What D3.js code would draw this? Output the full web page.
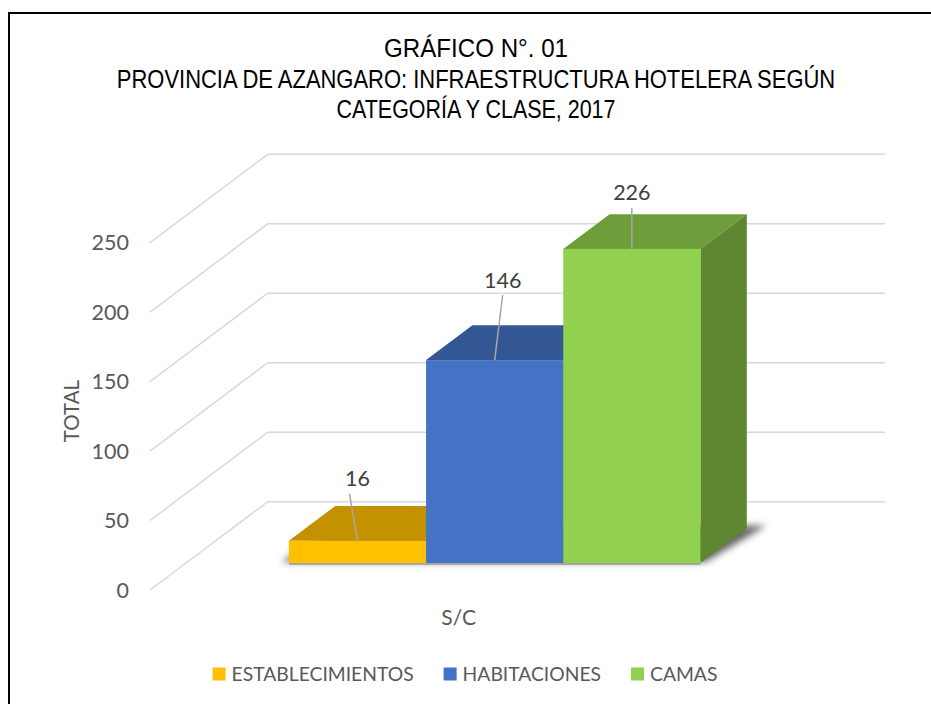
<!DOCTYPE html>
<html>
<head>
<meta charset="utf-8">
<script src="https://cdn.jsdelivr.net/npm/d3@7/dist/d3.min.js"></script>
<style>
  body { margin: 0; background: #fff; }
  svg { display: block; }
</style>
</head>
<body>
<script>
// data
var titleLines = ["GRÁFICO N°. 01",
                  "PROVINCIA DE AZANGARO: INFRAESTRUCTURA HOTELERA SEGÚN",
                  "CATEGORÍA Y CLASE, 2017"];
var categories = ["S/C"];
var series     = ["ESTABLECIMIENTOS", "HABITACIONES", "CAMAS"];
var values     = [16, 146, 226];
var yTicks     = [0, 50, 100, 150, 200, 250];
var yLabel     = "TOTAL";

// face colours: front, top, side
var colors = [
    {front: "#FFC000", top: "#C49200", side: "#B08300"},
    {front: "#4472C4", top: "#335694", side: "#2F5189"},
    {front: "#92D050", top: "#6E9E3C", side: "#5F8632"}
];
// small manual nudges for the data labels (Excel had them dragged)
var labelNudge = [[0, -62], [8, -80], [0, -56]];

var W = 931, H = 704;
var DX = 117.7, DY = 88.3;          // 3D depth offset of the back wall
var d0 = 0.306, d1 = 0.70;          // depth extent of the bars

var svg = d3.select("body").append("svg")
    .attr("width", W).attr("height", H);

// frame
svg.append("rect")
    .attr("x", 9).attr("y", 13)
    .attr("width", W + 20).attr("height", H + 20)
    .attr("fill", "none").attr("stroke", "#000").attr("stroke-width", 2);

// title - narrow look made by squeezing a normal sans horizontally
var title = svg.append("g")
    .attr("font-family", "'Liberation Sans Narrow', 'Arial Narrow', 'Liberation Sans', Arial, sans-serif")
    .attr("font-size", 26).attr("fill", "#000").attr("text-anchor", "middle");
var titleWidths = [184, 719, 279];
title.selectAll("text").data(titleLines).enter().append("text")
    .text(function(d) { return d; })
    .attr("transform", function(d, i) {
        var w = this.getComputedTextLength();
        var sx = Math.min(1, titleWidths[i] / w);
        return "translate(476," + (57 + i * 30.5) + ") scale(" + sx + ",1)";
    });

// scales
var y = d3.scaleLinear().domain([0, 250]).range([590, 242.6]);
var xCat = d3.scaleBand().domain(categories).range([150, 885 - DX]);
var xSer = d3.scaleBand().domain(series).range([0, xCat.bandwidth()]).paddingOuter(0.75);

function P(x, v, d) { return [x + d * DX, y(v) - d * DY]; }
function poly(pts) { return "M" + pts.map(function(p) { return p.join(","); }).join("L") + "Z"; }

var defs = svg.append("defs");
defs.append("filter").attr("id", "blur")
    .attr("x", "-20%").attr("y", "-50%").attr("width", "140%").attr("height", "200%")
  .append("feGaussianBlur").attr("stdDeviation", 3.5);

// grid: diagonal on the left wall + back wall line
svg.append("g").selectAll("path").data(yTicks).enter().append("path")
    .attr("d", function(t) {
        var a = P(150, t, 0), b = P(150, t, 1);
        return "M" + a + "L" + b + "L" + [885, b[1]];
    })
    .attr("fill", "none").attr("stroke", "#d9d9d9").attr("stroke-width", 1.5);

// y tick labels
var font = "Lato, 'Open Sans', 'DejaVu Sans', sans-serif";
svg.append("g").selectAll("text").data(yTicks).enter().append("text")
    .attr("x", 129).attr("y", function(t) { return y(t); })
    .attr("dy", "0.35em").attr("text-anchor", "end")
    .attr("font-family", font).attr("font-size", 21.5).attr("fill", "#595959")
    .text(function(t) { return t; });

svg.append("text")
    .attr("transform", "translate(79,411) rotate(-90)")
    .attr("text-anchor", "middle")
    .attr("font-family", font).attr("font-size", 20.5).attr("fill", "#595959")
    .text(yLabel);

// category label
svg.append("text")
    .attr("x", xCat("S/C") + xCat.bandwidth() / 2).attr("y", 618)
    .attr("dy", "0.35em").attr("text-anchor", "middle")
    .attr("font-family", font).attr("font-size", 21).attr("fill", "#595959")
    .text(categories[0]);

// bars
var x0 = xCat("S/C");
var bars = series.map(function(s, i) {
    return {name: s, v: values[i], xl: x0 + xSer(s), xr: x0 + xSer(s) + xSer.bandwidth(), c: colors[i], i: i};
});

// floor shadow
var sh = svg.append("g").attr("filter", "url(#blur)");
sh.append("path")
    .attr("d", function() {
        var l = bars[0].xl, r = bars[bars.length - 1].xr;
        return poly([P(l - 9, 0, d0 + 0.01), P(r + 4, 0, d0 + 0.01),
                     P(r + 16, 0, d1 + 0.03), P(l, 0, d1 + 0.02)]);
    })
    .attr("fill", "#000").attr("opacity", 0.6);

var g = svg.append("g");
bars.forEach(function(b) {
    // top
    g.append("path")
        .attr("d", poly([P(b.xl, b.v, d0), P(b.xr, b.v, d0), P(b.xr, b.v, d1), P(b.xl, b.v, d1)]))
        .attr("fill", b.c.top);
    // right side
    g.append("path")
        .attr("d", poly([P(b.xr, 0, d0), P(b.xr, b.v, d0), P(b.xr, b.v, d1), P(b.xr, 0, d1)]))
        .attr("fill", b.c.side);
    // front
    var a = P(b.xl, b.v, d0), c = P(b.xr, 0, d0);
    g.append("rect")
        .attr("x", a[0]).attr("y", a[1])
        .attr("width", c[0] - a[0]).attr("height", c[1] - a[1])
        .attr("fill", b.c.front);
});
// thin ground line under the front faces
var gl0 = P(bars[0].xl, 0, d0), gl1 = P(bars[2].xr, 0, d0);
svg.append("line")
    .attr("x1", gl0[0]).attr("x2", gl1[0]).attr("y1", gl0[1] + 1).attr("y2", gl0[1] + 1)
    .attr("stroke", "#7f7f7f").attr("stroke-width", 1.5).attr("opacity", 0.7);

// data labels with leader lines
var lab = svg.append("g");
bars.forEach(function(b, i) {
    var top = P((b.xl + b.xr) / 2, b.v, d0);
    var lx = top[0] + labelNudge[i][0], ly = top[1] + labelNudge[i][1];
    lab.append("line")
        .attr("x1", top[0]).attr("y1", top[1])
        .attr("x2", lx - (i === 0 ? 8 : 0)).attr("y2", ly + 15)
        .attr("stroke", "#a6a6a6").attr("stroke-width", 1.5);
    lab.append("text")
        .attr("x", lx).attr("y", ly).attr("dy", "0.35em")
        .attr("text-anchor", "middle")
        .attr("font-family", font).attr("font-size", 21.5).attr("fill", "#404040")
        .text(b.v);
});

// legend
var leg = svg.append("g");
var items = leg.selectAll("g").data(series).enter().append("g");
items.append("rect")
    .attr("width", 13).attr("height", 13).attr("y", -6.5)
    .attr("fill", function(d, i) { return colors[i].front; });
items.append("text")
    .attr("x", 19).attr("dy", "0.35em")
    .attr("font-family", font).attr("font-size", 19.3).attr("fill", "#595959")
    .text(function(d) { return d; });
var xpos = 0, widths = [];
items.each(function() { widths.push(this.getBBox().width); });
var total = d3.sum(widths) + 30 * (widths.length - 1);
xpos = 465 - total / 2;
items.attr("transform", function(d, i) {
    var t = "translate(" + xpos + ",674)";
    xpos += widths[i] + 30;
    return t;
});
</script>
</body>
</html>
